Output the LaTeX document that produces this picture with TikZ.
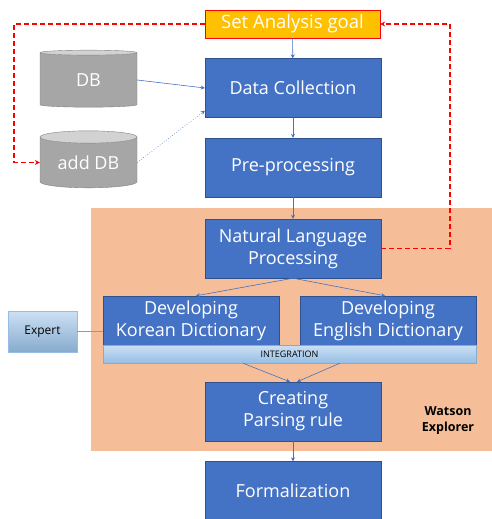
\documentclass[tikz,border=0pt]{standalone}
\usepackage{fontspec}
\setmainfont{Open Sans}
\usetikzlibrary{arrows.meta, shapes.geometric}

\definecolor{stepblue}{RGB}{68,114,196}
\definecolor{stepedge}{RGB}{47,82,143}
\definecolor{goalfill}{RGB}{255,192,0}
\definecolor{watsonbg}{RGB}{246,190,152}
\definecolor{dbbody}{RGB}{166,166,166}
\definecolor{dbtop}{RGB}{210,210,210}
\definecolor{barlight}{RGB}{204,224,244}
\definecolor{bardark}{RGB}{150,190,228}

\begin{document}
\begin{tikzpicture}[
  x=1pt, y=-1pt,
  box/.style={draw=stepedge, fill=stepblue, text=white, align=center,
    minimum width=176pt, minimum height=59pt, inner sep=2pt,
    font=\fontsize{18}{22}\selectfont},
  dict/.style={box, minimum height=49pt},
  goalbox/.style={draw=red, fill=goalfill, text=white, minimum width=175pt,
    minimum height=28pt, inner sep=2pt, font=\fontsize{18.5}{20}\selectfont},
  dbstore/.style={shape=cylinder, shape border rotate=90, aspect=0.2,
    draw=gray, cylinder uses custom fill, cylinder body fill=dbbody,
    cylinder end fill=dbtop, text=white, minimum width=97pt,
    minimum height=57pt, inner sep=0pt, font=\fontsize{18}{20}\selectfont},
  barbox/.style={draw=bardark!90!black, top color=barlight, bottom color=bardark,
    minimum width=373pt, minimum height=18pt, inner sep=0pt,
    font=\fontsize{9}{10}\selectfont},
  expertbox/.style={draw=bardark, top color=barlight, bottom color=bardark!90!black,
    minimum width=69pt, minimum height=41pt, inner sep=0pt,
    font=\fontsize{12}{14}\selectfont},
  flow/.style={-{Stealth[length=4pt, width=4pt]}, stepblue, line width=0.6pt},
  feedback/.style={-{Stealth[length=5pt, width=5pt]}, red, line width=1.3pt,
    dash pattern=on 5pt off 3pt},
]
  \useasboundingbox (0,0) rectangle (492,519);
  % Watson Explorer area
  \fill[watsonbg] (91,208) rectangle (492,451);

  \node[goalbox] (goal) at (292.5,24) {Set Analysis goal};
  \node[dbstore] (db) at (88.5,80) {DB};
  \node[dbstore] (adddb) at (88.5,162.5) {add DB};
  \node[box] (collect) at (293,88) {Data Collection};
  \node[box] (prep) at (293,167.5) {Pre-processing};
  \node[box] (nlp) at (293,248.5) {Natural Language\\Processing};
  \node[dict] (kor) at (191,320.5) {Developing\\Korean Dictionary};
  \node[dict] (eng) at (388,320.5) {Developing\\English Dictionary};
  \node[barbox] (integ) at (289.5,354) {INTEGRATION};
  \node[expertbox] (expert) at (42.5,331.5) {Expert};
  \node[box] (parse) at (293,411.5) {Creating\\Parsing rule};
  \node[box] (formal) at (293,491) {Formalization};
  \node[align=center, font=\bfseries\fontsize{12.5}{16}\selectfont] (watson) at (448,421) {Watson\\Explorer};

  \coordinate (loopleft) at (14,0);
  \coordinate (loopright) at (450,0);

  \draw[flow] (goal) -- (collect);
  \draw[flow] (collect) -- (prep);
  \draw[flow] (prep) -- (nlp);
  \draw[flow] (db.east) -- (collect.west);
  \draw[flow, dotted] (adddb.east) -- ([yshift=7pt]collect.south west);
  \draw[flow] (nlp.south) -- ([xshift=5pt]kor.north);
  \draw[flow] (nlp.south) -- ([xshift=-3pt]eng.north);
  \draw[stepblue!70] (expert.east) -- (expert.east -| kor.west);
  \draw[flow] ([xshift=-46.5pt]integ.south) -- ([xshift=-3pt]parse.north);
  \draw[flow] ([xshift=50.5pt]integ.south) -- ([xshift=4pt]parse.north);
  \draw[flow] (parse) -- (formal);

  \draw[feedback] (goal.west) -- (goal.west -| loopleft) |- (adddb.west);
  \draw[feedback] (nlp.east) -- (nlp.east -| loopright) |- (goal.east);
\end{tikzpicture}
\end{document}
